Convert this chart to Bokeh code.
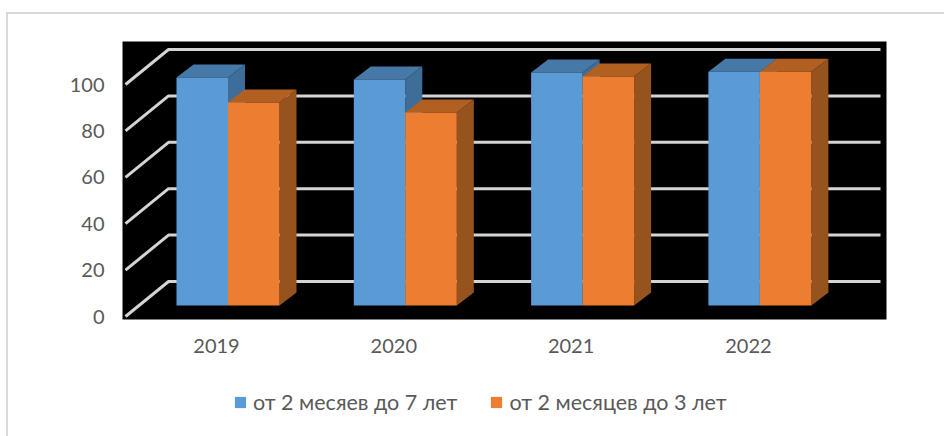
from bokeh.plotting import figure
from bokeh.layouts import column
from bokeh.models import Range1d, FixedTicker, Legend, LegendItem
from bokeh.embed import file_html
from bokeh.resources import INLINE

years = [2019, 2020, 2021, 2022]
y_ticks = [0, 20, 40, 60, 80, 100]
blue_name = "от 2 месяев до 7 лет"
orange_name = "от 2 месяцев до 3 лет"
blue_vals = [98.3, 97.4, 100.4, 100.8]
orange_vals = [87.5, 83.2, 98.7, 100.8]
BLUE, ORANGE = "#5b9bd5", "#ed7d31"

PX_X = 177.3   # px per category
PX_Y = 2.32    # px per value unit
FRAME_L, FRAME_R, FRAME_T, FRAME_B = 122, 886, 41, 319
ZERO_X, ZERO_Y = 216, 316
TOP_PAD = 14
LEFT_PAD = 8
W, H_MAIN, H_LEG = 936, 370, 52

bar_w = 51.5 / PX_X
bar_shift = 11.5 / PX_X        # bars' shared edge relative to the label
bar_dx, bar_dy = 17 / PX_X, 13 / PX_Y
base = 11 / PX_Y               # bar floor above the front axis
wall_dx, wall_dy = 43 / PX_X, 35 / PX_Y
line_l = 2019 + (125 - ZERO_X) / PX_X
line_r = 2019 + (880 - ZERO_X) / PX_X

p = figure(
    width=W, height=H_MAIN, output_backend="svg", toolbar_location=None,
    x_range=Range1d(2019 + (FRAME_L - ZERO_X) / PX_X, 2019 + (FRAME_R - ZERO_X) / PX_X),
    y_range=Range1d((ZERO_Y - FRAME_B) / PX_Y, (ZERO_Y - FRAME_T) / PX_Y),
    min_border_left=FRAME_L - LEFT_PAD, min_border_right=W + LEFT_PAD - FRAME_R,
    min_border_top=FRAME_T - TOP_PAD, min_border_bottom=H_MAIN + TOP_PAD - FRAME_B,
    background_fill_color="black", outline_line_color=None,
)
p.grid.visible = False

for ax, ticks, standoff in ((p.xaxis[0], years, 13), (p.yaxis[0], y_ticks, 12)):
    ax.ticker = FixedTicker(ticks=ticks)
    ax.axis_line_color = None
    ax.major_tick_line_color = None
    ax.minor_tick_line_color = None
    ax.major_label_text_color = "#595959"
    ax.major_label_text_font = "Lato"
    ax.major_label_text_font_size = "20px"
    ax.major_label_standoff = standoff

# walls' gridlines, running back from the front axis and along the back wall
xs = [[line_l, line_l + wall_dx, line_r] for _ in y_ticks]
ys = [[v, v + wall_dy, v + wall_dy] for v in y_ticks]
p.multi_line(xs, ys, line_color="#d4d4d4", line_width=3)

def bar(vals, left_off, front, top, side):
    lefts = [y + bar_shift + left_off for y in years]
    rights = [l + bar_w for l in lefts]
    tops = [v + base for v in vals]
    p.patches(
        [[r, r + bar_dx, r + bar_dx, r] for r in rights],
        [[base, base + bar_dy, t + bar_dy, t] for t in tops],
        fill_color=side, line_color=None)
    p.patches(
        [[l, l + bar_dx, r + bar_dx, r] for l, r in zip(lefts, rights)],
        [[t, t + bar_dy, t + bar_dy, t] for t in tops],
        fill_color=top, line_color=None)
    p.quad(left=lefts, right=rights, bottom=base, top=tops,
           fill_color=front, line_color=None)

bar(blue_vals, -bar_w, BLUE, "#4679a8", "#3e6d99")
bar(orange_vals, 0, ORANGE, "#b16022", "#97531e")

# legend strip under the main figure; its swatches come from off-range stand-in glyphs
p2 = figure(
    width=W, height=H_LEG, output_backend="svg", toolbar_location=None,
    x_range=Range1d(0, 1), y_range=Range1d(0, 1),
    x_axis_location=None, y_axis_location=None,
    min_border=0, outline_line_color=None,
)
p2.grid.visible = False
r_blue = p2.quad(left=[2], right=[3], bottom=[2], top=[3], fill_color=BLUE, line_color=None)
r_orange = p2.quad(left=[2], right=[3], bottom=[2], top=[3], fill_color=ORANGE, line_color=None)
legend = Legend(
    items=[LegendItem(label=blue_name, renderers=[r_blue]),
           LegendItem(label=orange_name, renderers=[r_orange])],
    orientation="horizontal", location=(111, 21),
    background_fill_alpha=0, border_line_color=None,
    label_text_font="Lato", label_text_font_size="21.5px", label_text_color="#595959",
    glyph_width=14, glyph_height=14, spacing=32, label_standoff=6,
    padding=0, margin=0,
)
p2.add_layout(legend, "center")

layout = column(p, p2, spacing=0, styles={
    "margin-left": "6px", "margin-top": "12px",
    "border-left": "2px solid #d9d9d9", "border-top": "2px solid #d9d9d9"})

open("out.html", "w").write(file_html(layout, INLINE))
